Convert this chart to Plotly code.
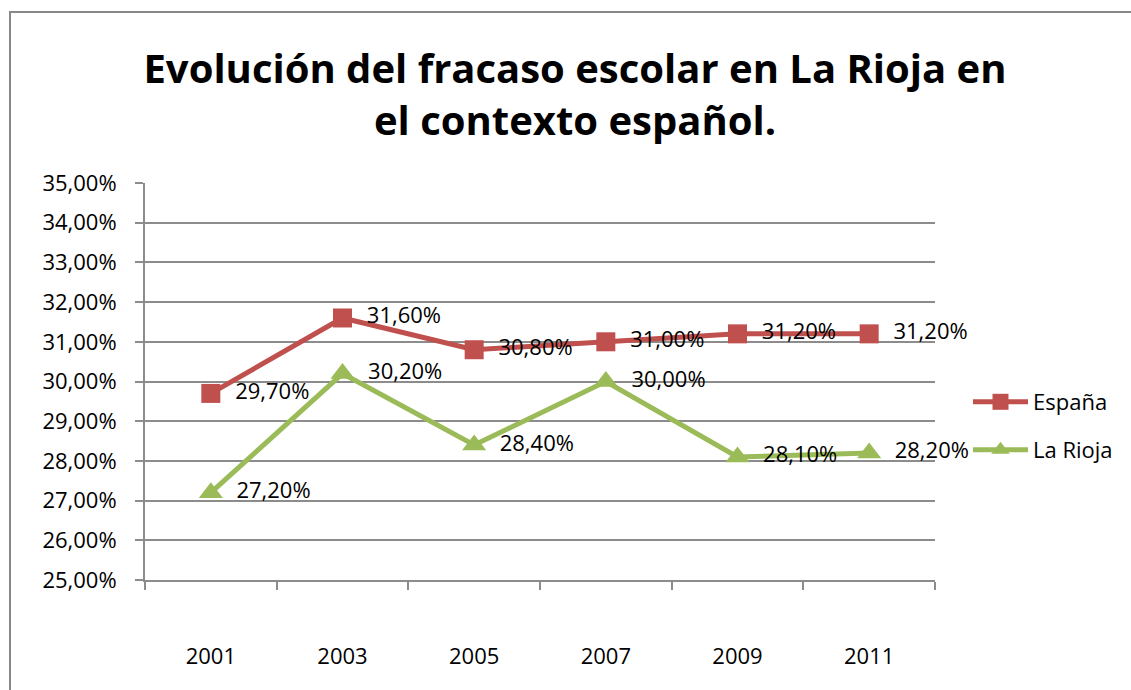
import plotly.graph_objects as go

years = ["2001", "2003", "2005", "2007", "2009", "2011"]
espana = [0.297, 0.316, 0.308, 0.310, 0.312, 0.312]
la_rioja = [0.272, 0.302, 0.284, 0.300, 0.281, 0.282]

RED = "#C0504D"
GREEN = "#9BBB59"
GRID = "#8C8C8C"
FONT = "Open Sans"
FS = 22

fig = go.Figure()
fig.add_trace(go.Scatter(
    x=years, y=espana, name="España", mode="lines+markers+text",
    line=dict(color=RED, width=5),
    marker=dict(symbol="square", size=19, color=RED),
    texttemplate="\u00a0\u00a0%{y:.2%}", textposition="middle right",
    textfont=dict(size=FS, color="black", family=FONT),
    cliponaxis=False, legend="legend",
))
fig.add_trace(go.Scatter(
    x=years, y=la_rioja, name="La Rioja", mode="lines+markers+text",
    line=dict(color=GREEN, width=5),
    marker=dict(symbol="triangle-up", size=21, color=GREEN),
    texttemplate="\u00a0\u00a0%{y:.2%}", textposition="middle right",
    textfont=dict(size=FS, color="black", family=FONT),
    cliponaxis=False, legend="legend2",
))

L, R, T, B = 145, 935, 183, 580
W, H = 1131, 690
pw, ph = R - L, B - T

def px_x(x):
    return (x - L) / pw

def px_y(y):
    return (B - y) / ph

fig.update_layout(
    width=W, height=H,
    margin=dict(l=L, r=W - R, t=T, b=H - B, autoexpand=False),
    paper_bgcolor="white", plot_bgcolor="white",
    separators=",.",
    font=dict(family=FONT, size=FS, color="black"),
    title=dict(
        text="Evolución del fracaso escolar en La Rioja en<br>el contexto español.",
        x=575 / W, xanchor="center", y=1 - 83 / H, yanchor="middle",
        xref="container", yref="container",
        font=dict(family=FONT, size=40, color="black", weight="bold"),
    ),
    legend=dict(
        x=px_x(968), y=px_y(402), xanchor="left", yanchor="middle",
        font=dict(size=FS, family=FONT), bgcolor="rgba(0,0,0,0)", itemwidth=55,
    ),
    legend2=dict(
        x=px_x(968), y=px_y(450), xanchor="left", yanchor="middle",
        font=dict(size=FS, family=FONT), bgcolor="rgba(0,0,0,0)", itemwidth=55,
    ),
    showlegend=True,
)
fig.update_xaxes(
    type="category", range=[-0.5, 5.5],
    showgrid=False, showline=True, linecolor=GRID, linewidth=2,
    ticks="outside", tickson="boundaries", ticklen=8, tickcolor=GRID, tickwidth=2,
    ticklabelstandoff=56, tickfont=dict(size=FS, family=FONT),
    zeroline=False,
)
fig.update_yaxes(
    range=[0.25, 0.35], dtick=0.01, tickformat=".2%",
    showgrid=True, gridcolor=GRID, gridwidth=2,
    showline=True, linecolor=GRID, linewidth=2,
    ticks="outside", ticklen=8, tickcolor=GRID, tickwidth=2,
    ticklabelstandoff=14, tickfont=dict(size=FS, family=FONT),
    zeroline=False,
)
fig.add_shape(
    type="rect", xref="paper", yref="paper",
    x0=px_x(10), x1=px_x(1140), y0=px_y(700), y1=px_y(12),
    line=dict(color="#888888", width=2), fillcolor="rgba(0,0,0,0)", layer="below",
)
fig.write_html("out.html", config={"displayModeBar": False},
               post_script="document.body.style.margin='0';")
